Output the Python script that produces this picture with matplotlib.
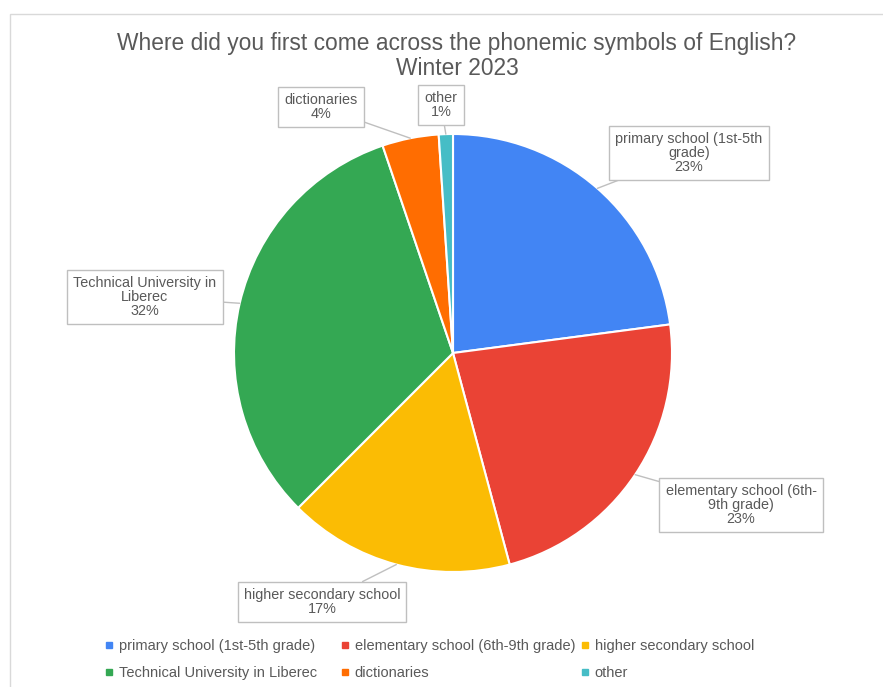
import numpy as np
import matplotlib.pyplot as plt
from matplotlib.lines import Line2D
from matplotlib.patches import Rectangle

plt.rcParams['font.family'] = ['Liberation Sans', 'DejaVu Sans']

# survey answers (counts)
categories = ['primary school (1st-5th grade)', 'elementary school (6th-9th grade)',
              'higher secondary school', 'Technical University in Liberec',
              'dictionaries', 'other']
counts = [22, 22, 16, 31, 4, 1]
callout_names = ['primary school (1st-5th\ngrade)', 'elementary school (6th-\n9th grade)',
                 'higher secondary school', 'Technical University in\nLiberec',
                 'dictionaries', 'other']
colors = ['#4285F4', '#EA4335', '#FBBC04', '#34A853', '#FF6D01', '#46BDC6']

W, H = 883, 687
text_col = '#595959'

fig = plt.figure(figsize=(W / 100, H / 100), dpi=100)

# light frame (only left and top edges are visible in the original)
fig.add_artist(Rectangle((10 / W, -0.05), 1.2, 1 - 14 / H + 0.05, transform=fig.transFigure,
                         fill=False, edgecolor='#D9D9D9', linewidth=1))

fig.text(457 / W, 1 - 56 / H, 'Where did you first come across the phonemic symbols of English?\nWinter 2023',
         ha='center', va='center', fontsize=16.4, color=text_col, linespacing=1.1)

ax = fig.add_axes([234 / W, 1 - 572 / H, 438 / W, 438 / H])
wedges, _ = ax.pie(counts, colors=colors, startangle=90, counterclock=False,
                   wedgeprops=dict(edgecolor='white', linewidth=1.5))
ax.set_xlim(-1, 1)
ax.set_ylim(-1, 1)
ax.set_aspect('equal')

# callout box centres in pixels (from top-left)
box_pos = [(689, 153), (741, 505), (322, 602), (145, 297), (321, 107), (441, 105)]
total = sum(counts)
for w, name, v, (bx, by) in zip(wedges, callout_names, counts, box_pos):
    ang = np.deg2rad((w.theta1 + w.theta2) / 2)
    tip = (np.cos(ang), np.sin(ang))
    ax.annotate(f'{name}\n{round(v / total * 100)}%', xy=tip, xycoords='data',
                xytext=(bx / W, 1 - by / H), textcoords='figure fraction',
                ha='center', va='center', fontsize=10.4, color=text_col, linespacing=0.98,
                bbox=dict(boxstyle='square,pad=0.42', fc='white', ec='#BFBFBF', lw=1),
                arrowprops=dict(arrowstyle='-', color='#BFBFBF', lw=1, shrinkA=0, shrinkB=0),
                annotation_clip=False)

# legend: Excel-style fixed columns, rows filled left to right
col_x = [105, 341, 581]
for j in range(3):
    idx = [j, j + 3]
    handles = [Line2D([], [], marker='s', linestyle='none', markersize=4,
                      color=colors[i]) for i in idx]
    fig.legend(handles, [categories[i] for i in idx], loc='upper left',
               bbox_to_anchor=(col_x[j] / W, 1 - 639 / H), frameon=False,
               fontsize=10.5, labelcolor=text_col, handlelength=0.6, handletextpad=0.35,
               labelspacing=0.9, borderpad=0, borderaxespad=0)

fig.savefig('out.png', dpi=100)
